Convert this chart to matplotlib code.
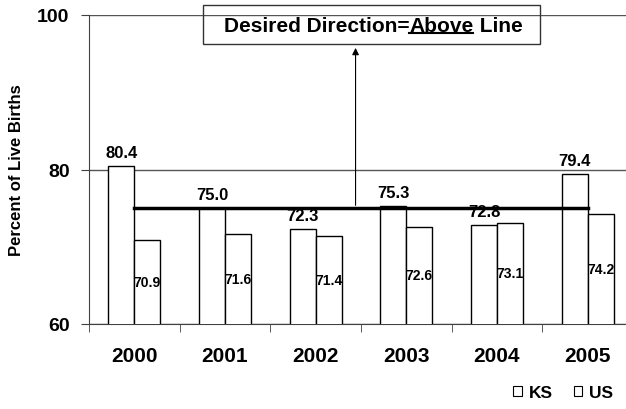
import matplotlib
matplotlib.use("Agg")
import matplotlib.pyplot as plt
from matplotlib.patches import Patch, Rectangle

plt.rcParams['font.family'] = ['Liberation Sans', 'DejaVu Sans']
plt.rcParams['font.weight'] = 'bold'

years = ['2000', '2001', '2002', '2003', '2004', '2005']
ks = [80.4, 75.0, 72.3, 75.3, 72.8, 79.4]
us = [70.9, 71.6, 71.4, 72.6, 73.1, 74.2]
target = 75
box_text = ["Desired Direction=", "Above", " Line"]

fig = plt.figure(figsize=(6.26, 4.10), dpi=100)
ax = fig.add_axes([89 / 626, 1 - 325 / 410, 544 / 626, 309 / 410])

x = list(range(len(years)))
w = 0.287
ax.bar([i - w / 2 for i in x], ks, w, color='white', edgecolor='black', lw=1, zorder=3)
ax.bar([i + w / 2 for i in x], us, w, color='white', edgecolor='black', lw=1, zorder=3)

for i in x:
    ax.text(i - w / 2, ks[i] + 0.8, f"{ks[i]:.1f}", ha='center', va='bottom', fontsize=12, fontweight='bold', zorder=5)
    ax.text(i + w / 2, (60 + us[i]) / 2, f"{us[i]:.1f}", ha='center', va='center', fontsize=10, fontweight='bold', zorder=5)

# target line
ax.plot([x[0], x[-1]], [target, target], color='black', lw=2.5, zorder=4)

ax.set_ylim(60, 100)
ax.set_xlim(-0.5, len(years) - 0.5)
ax.set_yticks([60, 80, 100])
ax.set_yticklabels(['60', '80', '100'], fontsize=14, fontweight='bold')
ax.set_xticks(x)
ax.set_xticklabels(years, fontsize=15, fontweight='bold')
ax.tick_params(axis='x', length=0, pad=16)
ax.set_xticks([i + 0.5 for i in x[:-1]] + [-0.5], minor=True)
ax.tick_params(axis='x', which='minor', length=6, direction='out', color='#404040')
ax.tick_params(axis='y', length=6, direction='out', color='#404040', pad=8)
ax.grid(axis='y', color='#555555', lw=1, zorder=0)
for s in ['top', 'right']:
    ax.spines[s].set_visible(False)
for s in ['left', 'bottom']:
    ax.spines[s].set_color('#404040')
ax.set_ylabel('Percent of Live Births', fontsize=12, fontweight='bold')
ax.yaxis.set_label_coords(-0.1195, 0.5)

# arrow + box
ax.annotate('', xy=(2.44, 96.1), xytext=(2.44, target),
            arrowprops=dict(arrowstyle='-|>', color='black', lw=0.8, mutation_scale=10), zorder=4)
fig.patches.append(Rectangle((203 / 626, 1 - 45 / 410), 337 / 626, 39 / 410, transform=fig.transFigure,
                             facecolor='none', edgecolor='#333333', lw=1, zorder=6))
fig.canvas.draw()
r = fig.canvas.get_renderer()
parts = []
for s in box_text:
    t = fig.text(0, 1 - 31.5 / 410, s, fontsize=15, fontweight='bold', va='baseline', ha='left', zorder=7)
    parts.append(t)
widths = [t.get_window_extent(r).width for t in parts]
start = 373 - sum(widths) / 2
cur = start
for t, wd in zip(parts, widths):
    t.set_x(cur / 626)
    cur += wd
# underline "Above"
u0 = start + widths[0]
fig.add_artist(plt.Line2D([u0 / 626, (u0 + widths[1] - 1) / 626], [1 - 33.5 / 410, 1 - 33.5 / 410],
                          transform=fig.transFigure, color='black', lw=1.5, zorder=7))

handles = [Patch(facecolor='white', edgecolor='black', lw=0.8, label='KS'),
           Patch(facecolor='white', edgecolor='black', lw=0.8, label='US')]
fig.legend(handles=handles, loc='lower right', bbox_to_anchor=(622 / 626, 0.0), ncol=2, frameon=False,
           prop={'weight': 'bold', 'size': 12.5}, handlelength=0.5, handleheight=0.5,
           handletextpad=0.4, columnspacing=1.2, borderaxespad=0.1)

fig.savefig('out.png', dpi=100)
